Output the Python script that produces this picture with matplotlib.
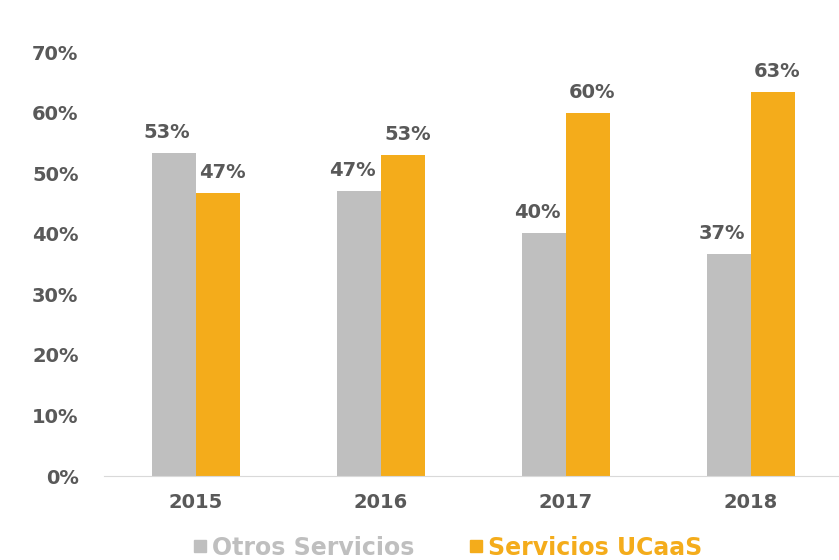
import matplotlib.pyplot as plt
from matplotlib.lines import Line2D
import numpy as np

years = ['2015', '2016', '2017', '2018']
otros = [53.3, 47.0, 40.1, 36.6]
ucaas = [46.7, 53.0, 59.9, 63.4]
names = ['Otros Servicios', 'Servicios UCaaS']

gray = '#BFBFBF'
orange = '#F4AC1B'
txt = '#595959'

plt.rcParams['font.family'] = 'DejaVu Sans'
plt.rcParams['font.weight'] = 'bold'

fig = plt.figure(figsize=(8.39, 5.60), dpi=100)
ax = fig.add_axes([0.1234, 0.15, 0.882, 0.757])

x = np.arange(len(years))
w = 0.24
b1 = ax.bar(x - w / 2, otros, w, color=gray)
b2 = ax.bar(x + w / 2, ucaas, w, color=orange)

# value labels, Excel-style, slightly offset
for rect, v in zip(b1, otros):
    ax.annotate(f'{round(v)}%', (rect.get_x() + rect.get_width() / 2, v),
                xytext=(-5, 8), textcoords='offset points', ha='center', va='bottom',
                fontsize=14, color=txt, fontweight='bold')
for rect, v in zip(b2, ucaas):
    ax.annotate(f'{round(v)}%', (rect.get_x() + rect.get_width() / 2, v),
                xytext=(3, 8), textcoords='offset points', ha='center', va='bottom',
                fontsize=14, color=txt, fontweight='bold')

ax.set_xlim(-0.5, 3.5)
ax.set_ylim(0, 70)
ax.set_yticks(range(0, 71, 10))
ax.set_yticklabels([f'{t}%' for t in range(0, 71, 10)])
ax.set_xticks(x)
ax.set_xticklabels(years)
ax.tick_params(length=0, labelsize=14, labelcolor=txt, pad=12)
ax.tick_params(axis='y', pad=18)
for s in ['top', 'right', 'left']:
    ax.spines[s].set_visible(False)
ax.spines['bottom'].set_color('#D9D9D9')

handles = [Line2D([], [], marker='s', linestyle='', color=gray, markersize=8),
           Line2D([], [], marker='s', linestyle='', color=orange, markersize=8)]
fig.legend(handles, names, loc='center', bbox_to_anchor=(0.532, 0.022), ncol=2,
           frameon=False, fontsize=17, labelcolor=[gray, orange],
           handletextpad=0.1, columnspacing=2.2, handlelength=0.8)

fig.savefig('out.png', dpi=100)
